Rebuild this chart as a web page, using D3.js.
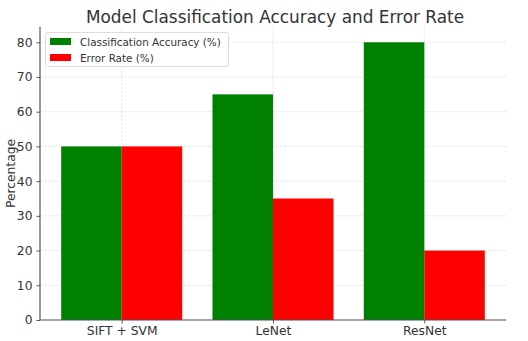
<!DOCTYPE html>
<html><head><meta charset="utf-8">
<script src="https://cdn.jsdelivr.net/npm/d3@7"></script>
<style>body{margin:0;background:#fff;} text{font-family:"DejaVu Sans",sans-serif;}</style>
</head><body><svg id="c" width="528" height="341"></svg>
<script>
const categories = ["SIFT + SVM", "LeNet", "ResNet"];
const accuracy = [50, 65, 80];
const errorRate = [50, 35, 20];
const seriesNames = ["Classification Accuracy (%)", "Error Rate (%)"];
const seriesColors = ["#008000", "#ff0000"];
const yTicks = [0, 10, 20, 30, 40, 50, 60, 70, 80];

const svg = d3.select("#c");
const L = 40, R = 506, T = 27, B = 320;
const x = d3.scaleLinear().domain([-0.54, 2.54]).range([L, R]);
const y = d3.scaleLinear().domain([0, 84.4]).range([B, T]);
const bw = 0.4;

// grid
const g = svg.append("g");
g.selectAll(".hg").data(yTicks).join("line")
  .attr("x1", L).attr("x2", R).attr("y1", d => y(d)).attr("y2", d => y(d))
  .attr("stroke", "#d8d8d8").attr("stroke-width", 0.7).attr("stroke-dasharray", "2.5,1.5");
g.selectAll(".vg").data(categories).join("line")
  .attr("x1", (d, i) => x(i)).attr("x2", (d, i) => x(i)).attr("y1", T).attr("y2", B)
  .attr("stroke", "#d8d8d8").attr("stroke-width", 0.7).attr("stroke-dasharray", "2.5,1.5");

// bars
const series = [accuracy, errorRate];
series.forEach((vals, s) => {
  svg.append("g").selectAll("rect").data(vals).join("rect")
    .attr("x", (d, i) => x(i - bw + s * bw))
    .attr("width", x(bw) - x(0))
    .attr("y", d => y(d))
    .attr("height", d => y(0) - y(d))
    .attr("fill", seriesColors[s]);
});

// axes
const ya = svg.append("g").attr("transform", `translate(${L},0)`)
  .call(d3.axisLeft(y).tickValues(yTicks).tickSize(3.5).tickPadding(4).tickFormat(d3.format("d")));
const xa = svg.append("g").attr("transform", `translate(0,${B})`)
  .call(d3.axisBottom(x).tickValues([0, 1, 2]).tickSize(3.5).tickPadding(3).tickFormat(i => categories[i]));
[ya, xa].forEach(a => {
  a.select(".domain").attr("stroke", "#555").attr("stroke-width", 1.2);
  a.selectAll(".tick line").attr("stroke", "#555");
  a.selectAll(".tick text").attr("fill", "#333").style("font-size", "12.3px").style("font-family", "DejaVu Sans");
});
ya.select(".domain").attr("d", `M0,${T}V${B}`);
xa.select(".domain").attr("d", `M${L},0H${R}`);

// title
svg.append("text").attr("x", (L + R) / 2 + 2).attr("y", 23).attr("text-anchor", "middle")
  .style("font-size", "16.9px").attr("fill", "#333").text("Model Classification Accuracy and Error Rate");
// y label
svg.append("text").attr("transform", `translate(15,${(T + B) / 2}) rotate(-90)`)
  .attr("text-anchor", "middle").style("font-size", "12.3px").attr("fill", "#333").text("Percentage");

// legend
const lg = svg.append("g");
lg.append("rect").attr("x", 45.5).attr("y", 32.5).attr("width", 183).attr("height", 34)
  .attr("rx", 2).attr("fill", "#fff").attr("fill-opacity", 0.85).attr("stroke", "#ddd");
seriesNames.forEach((n, i) => {
  lg.append("rect").attr("x", 50).attr("y", 38 + i * 16).attr("width", 21).attr("height", 7).attr("fill", seriesColors[i]);
  lg.append("text").attr("x", 80).attr("y", 45.5 + i * 16).style("font-size", "10.4px").attr("fill", "#333").text(n);
});
</script></body></html>
